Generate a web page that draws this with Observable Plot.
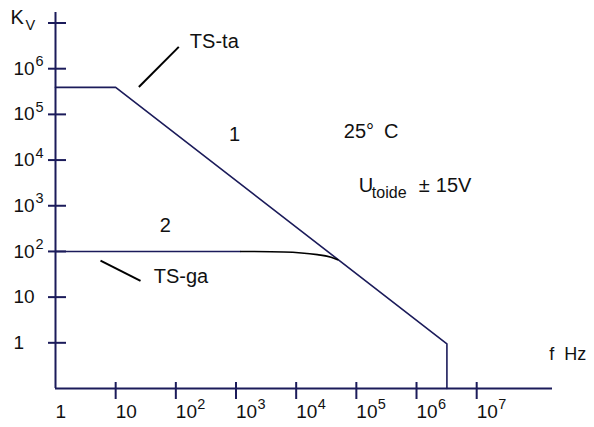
<!DOCTYPE html>
<html><head><meta charset="utf-8">
<script src="https://cdn.jsdelivr.net/npm/d3@7"></script>
<script src="https://cdn.jsdelivr.net/npm/@observablehq/plot@0.6"></script>
<style>body{margin:0;background:#fff} #chart{width:594px;height:427px}</style>
</head><body><div id="chart"></div>
<script>
// ---- data ----
const xLabelValues = [1, 10, 1e2, 1e3, 1e4, 1e5, 1e6, 1e7];
const xLabelBase = ["1", "10", "10", "10", "10", "10", "10", "10"];
const xLabelExp = ["", "", "2", "3", "4", "5", "6", "7"];
const xTickValues = [10, 1e2, 1e3, 1e4, 1e5, 1e6, 1e7];

const yLabelValues = [1, 10, 1e2, 1e3, 1e4, 1e5, 1e6];
const yLabelBase = ["1", "10", "10", "10", "10", "10", "10"];
const yLabelExp = ["", "", "2", "3", "4", "5", "6"];
const yTickValues = [1, 10, 1e2, 1e3, 1e4, 1e5, 1e6, 1e7];

// curve 1 (TS-ta)
const f1 = [1, 10, 3.2e6, 3.2e6];
const k1 = [3.9e5, 3.9e5, 0.95, 0.1];
// curve 2 (TS-ga) flat part and roll-off
const f2 = [1, 1200];
const k2 = [100, 100];
const f2b = [1200, 6200, 2.25e4, 3.8e4, 4.9e4];
const k2b = [100, 97.5, 85, 75, 66];

// ---- layout ----
const W = 594, H = 427;
const mL = 55, mR = 42, mT = 12, mB = 39;
const fw = W - mL - mR, fh = H - mT - mB;
const navy = "#1b1b5a";
const ink = "#111";
const font = "Liberation Sans, Arial, Helvetica, sans-serif";

const pts = (xs, ys) => xs.map((x, i) => ({x, y: ys[i]}));

const chart = Plot.plot({
  width: W, height: H,
  marginLeft: mL, marginRight: mR, marginTop: mT, marginBottom: mB,
  style: {fontFamily: font, background: "#fff", overflow: "visible"},
  x: {type: "log", domain: [1, 10 ** 8.26], axis: null},
  y: {type: "log", domain: [0.1, 10 ** 7.23], axis: null},
  marks: [
    // axes
    Plot.ruleX([1], {stroke: navy, strokeWidth: 2}),
    Plot.ruleY([0.1], {stroke: navy, strokeWidth: 2}),
    Plot.tickX(xTickValues, {x: d => d, stroke: navy, strokeWidth: 2, insetTop: fh - 6, insetBottom: -11}),
    Plot.tickY(yTickValues, {y: d => d, stroke: navy, strokeWidth: 2, insetLeft: -7, insetRight: fw - 11}),
    // x tick labels
    Plot.text(xLabelValues, {x: d => d, text: (d, i) => xLabelBase[i], frameAnchor: "bottom", dy: 29, textAnchor: "start", fontSize: 19, fill: ink}),
    Plot.text(xLabelValues, {x: d => d, text: (d, i) => xLabelExp[i], frameAnchor: "bottom", dy: 20, dx: 21.5, textAnchor: "start", fontSize: 14.5, fill: ink}),
    // y tick labels
    Plot.text(yLabelValues, {y: d => d, text: (d, i) => yLabelBase[i], frameAnchor: "left", dx: -42, textAnchor: "start", fontSize: 19, fill: ink}),
    Plot.text(yLabelValues, {y: d => d, text: (d, i) => yLabelExp[i], frameAnchor: "left", dx: -20, dy: -7, textAnchor: "start", fontSize: 14.5, fill: ink}),
    // axis titles
    Plot.text(["K"], {y: 1.3e7, frameAnchor: "left", dx: -45, textAnchor: "start", fontSize: 20, fill: ink}),
    Plot.text(["V"], {y: 1.3e7, frameAnchor: "left", dx: -30, dy: 8, textAnchor: "start", fontSize: 14.5, fill: ink}),
    Plot.text(["f  Hz"], {x: 1.6e8, y: 0.55, textAnchor: "start", fontSize: 18, fill: ink}),
    // curves
    Plot.line(pts(f1, k1), {x: "x", y: "y", stroke: navy, strokeWidth: 1.6}),
    Plot.line(pts(f2, k2), {x: "x", y: "y", stroke: navy, strokeWidth: 1.6}),
    Plot.line(pts(f2b, k2b), {x: "x", y: "y", stroke: "#000", strokeWidth: 1.6, curve: "monotone-x"}),
    // pointers
    Plot.link([0], {x1: 24.3, y1: 3.98e5, x2: 112, y2: 3.0e6, stroke: "#000", strokeWidth: 2}),
    Plot.link([0], {x1: 5.6, y1: 63, x2: 25.9, y2: 22.8, stroke: "#000", strokeWidth: 2}),
    // annotations
    Plot.text(["TS-ta"], {x: 171, y: 3.9e6, textAnchor: "start", fontSize: 20, fill: ink}),
    Plot.text(["TS-ga"], {x: 43, y: 27.5, textAnchor: "start", fontSize: 20, fill: ink}),
    Plot.text(["1"], {x: 946, y: 3.7e4, fontSize: 20, fill: ink}),
    Plot.text(["2"], {x: 67, y: 361, fontSize: 20, fill: ink}),
    Plot.text(["25°\u2002C"], {x: 6.2e4, y: 4.2e4, textAnchor: "start", fontSize: 20, fill: ink}),
    Plot.text(["U"], {x: 1.1e5, y: 2.8e3, textAnchor: "start", fontSize: 20, fill: ink}),
    Plot.text(["toide"], {x: 1.1e5, y: 2.8e3, dx: 13, dy: 8, textAnchor: "start", fontSize: 16, fill: ink}),
    Plot.text(["±"], {x: 1.1e5, y: 2.8e3, dx: 60, textAnchor: "start", fontSize: 20, fill: ink}),
    Plot.text(["15V"], {x: 1.1e5, y: 2.8e3, dx: 77, textAnchor: "start", fontSize: 20, fill: ink})
  ]
});
document.getElementById("chart").appendChild(chart);
</script>
</body></html>
